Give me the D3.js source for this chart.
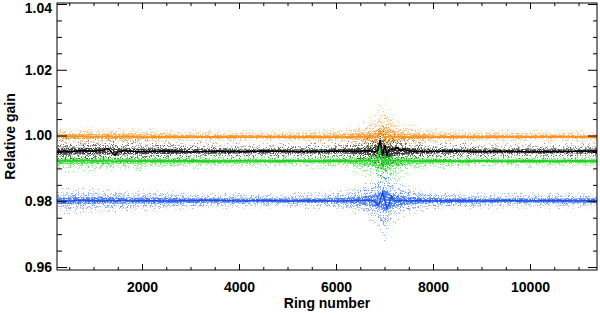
<!DOCTYPE html>
<html>
<head>
<meta charset="utf-8">
<script src="https://cdn.jsdelivr.net/npm/d3@7"></script>
<style>
  body { margin: 0; background: #fff; }
  svg text { font-family: "Liberation Sans", Arial, sans-serif; font-weight: bold; }
</style>
</head>
<body>
<svg id="chart" width="600" height="313"></svg>
<script>
// line samples (ring number)
var lineRings = [250, 500, 750, 1000, 1200, 1300, 1400, 1450, 1500, 1600, 1800, 2000, 2500, 3000, 3500, 4000, 4500, 5000, 5500, 6000, 6400, 6700, 6800, 6860, 6910, 6960, 7010, 7050, 7090, 7140, 7200, 7250, 7320, 7400, 7500, 7700, 8000, 8500, 9000, 9500, 10000, 10500, 11000, 11380];

var orangeLine = [0.9998, 0.9997, 0.9998, 0.9996, 0.9997, 0.9998, 0.9995, 0.9994, 0.9996, 0.9997, 0.9996, 0.9995, 0.9996, 0.9995, 0.9996, 0.9995, 0.9996, 0.9995, 0.9996, 0.9995, 0.9996, 0.9997, 0.9995, 0.9998, 1.0010, 1.0002, 0.9992, 0.9997, 0.9995, 0.9998, 0.9996, 0.9997, 0.9995, 0.9996, 0.9995, 0.9996, 0.9995, 0.9996, 0.9995, 0.9996, 0.9995, 0.9996, 0.9996, 0.9995];
var blackLine = [0.9953, 0.9951, 0.9954, 0.9952, 0.9955, 0.9961, 0.9944, 0.9940, 0.9950, 0.9954, 0.9952, 0.9951, 0.9953, 0.9950, 0.9952, 0.9951, 0.9953, 0.9952, 0.9951, 0.9953, 0.9952, 0.9954, 0.9950, 0.9956, 0.9986, 0.9940, 0.9970, 0.9942, 0.9954, 0.9958, 0.9956, 0.9964, 0.9955, 0.9958, 0.9953, 0.9951, 0.9952, 0.9953, 0.9951, 0.9952, 0.9950, 0.9951, 0.9952, 0.9953];
var greenLine = [0.9923, 0.9922, 0.9924, 0.9923, 0.9922, 0.9924, 0.9921, 0.9920, 0.9922, 0.9923, 0.9922, 0.9923, 0.9922, 0.9923, 0.9922, 0.9923, 0.9922, 0.9923, 0.9922, 0.9923, 0.9922, 0.9924, 0.9922, 0.9925, 0.9978, 0.9905, 0.9935, 0.9915, 0.9928, 0.9924, 0.9922, 0.9925, 0.9922, 0.9924, 0.9923, 0.9922, 0.9923, 0.9922, 0.9923, 0.9922, 0.9923, 0.9922, 0.9923, 0.9922];
var blueLine = [0.9802, 0.9801, 0.9803, 0.9802, 0.9801, 0.9803, 0.9802, 0.9800, 0.9802, 0.9803, 0.9801, 0.9802, 0.9801, 0.9802, 0.9803, 0.9801, 0.9802, 0.9801, 0.9802, 0.9801, 0.9802, 0.9803, 0.9800, 0.9788, 0.9800, 0.9827, 0.9800, 0.9780, 0.9790, 0.9815, 0.9803, 0.9801, 0.9802, 0.9803, 0.9801, 0.9802, 0.9801, 0.9802, 0.9801, 0.9802, 0.9801, 0.9802, 0.9801, 0.9802];

// scatter cloud: level and outer half-width, sampled along ring number
var bandRings = [250, 1000, 2000, 3000, 4000, 5000, 6000, 6400, 6700, 6900, 7000, 7100, 7300, 7700, 8000, 9000, 10000, 11380];
var orangeLevel = 0.9997, blackLevel = 0.9952, greenLevel = 0.9922, blueLevel = 0.9802;
var orangeSpread = [0.0030, 0.0030, 0.0026, 0.0022, 0.0020, 0.0020, 0.0024, 0.0035, 0.0055, 0.0090, 0.0135, 0.0085, 0.0050, 0.0032, 0.0025, 0.0020, 0.0020, 0.0020];
var blackSpread = [0.0042, 0.0040, 0.0035, 0.0028, 0.0025, 0.0024, 0.0027, 0.0035, 0.0050, 0.0070, 0.0090, 0.0065, 0.0045, 0.0032, 0.0028, 0.0024, 0.0024, 0.0026];
var greenSpread = [0.0035, 0.0035, 0.0030, 0.0025, 0.0022, 0.0022, 0.0025, 0.0035, 0.0055, 0.0085, 0.0125, 0.0080, 0.0050, 0.0032, 0.0026, 0.0022, 0.0022, 0.0022];
var blueSpread = [0.0042, 0.0040, 0.0035, 0.0028, 0.0024, 0.0024, 0.0028, 0.0040, 0.0060, 0.0095, 0.0140, 0.0090, 0.0055, 0.0036, 0.0030, 0.0025, 0.0025, 0.0025];

var xTicks = [2000, 4000, 6000, 8000, 10000];
var yTicks = [0.96, 0.98, 1.00, 1.02, 1.04];

var series = [
    { name: 'orange', level: orangeLevel, spread: orangeSpread, line: orangeLine, dot: '#ffa040', stroke: '#f59220' },
    { name: 'green', level: greenLevel, spread: greenSpread, line: greenLine, dot: '#44e844', stroke: '#22d022' },
    { name: 'black', level: blackLevel, spread: blackSpread, line: blackLine, dot: '#333333', stroke: '#000000' },
    { name: 'blue', level: blueLevel, spread: blueSpread, line: blueLine, dot: '#3f74f5', stroke: '#1f50e6' }
];

var svg = d3.select('#chart'),
    padL = 57, padR = 597, padT = 3, padB = 270;

var x = d3.scaleLinear().domain([247, 11381]).range([padL, padR]);
var y = d3.scaleLinear().domain([0.9591, 1.0403]).range([padB, padT]);

// speckle filters to give bands a scattered-dot look
var defs = svg.append('defs');
function speckle(id, freq, seed, gain, cut) {
    var f = defs.append('filter').attr('id', id)
        .attr('x', '-5%').attr('y', '-20%').attr('width', '110%').attr('height', '140%');
    f.append('feTurbulence').attr('type', 'fractalNoise').attr('baseFrequency', freq)
        .attr('numOctaves', 1).attr('seed', seed).attr('result', 'n');
    f.append('feColorMatrix').attr('in', 'n').attr('type', 'matrix')
        .attr('values', '0 0 0 0 0  0 0 0 0 0  0 0 0 0 0  ' + gain + ' 0 0 0 ' + (-cut))
        .attr('result', 'm');
    f.append('feComposite').attr('in', 'SourceGraphic').attr('in2', 'm').attr('operator', 'in');
}
speckle('sp1', 1.4, 2, 12, 7.4);
speckle('sp2', 1.4, 5, 12, 6.6);
speckle('sp3', 1.4, 9, 12, 5.0);

svg.append('clipPath').attr('id', 'plot')
    .append('rect').attr('x', padL).attr('y', padT).attr('width', padR - padL).attr('height', padB - padT);

var g = svg.append('g').attr('clip-path', 'url(#plot)');

var bands = [{ f: 1.0, id: 'sp1', o: 0.55 }, { f: 0.6, id: 'sp2', o: 0.7 }, { f: 0.25, id: 'sp3', o: 0.9 }];

series.forEach(function(s) {
    bands.forEach(function(b) {
        var area = d3.area()
            .curve(d3.curveBasis)
            .x(function(d, i) { return x(bandRings[i]); })
            .y0(function(d) { return y(s.level - d * b.f); })
            .y1(function(d) { return y(s.level + d * b.f); });
        g.append('path')
            .attr('class', s.name)
            .attr('d', area(s.spread))
            .attr('fill', s.dot)
            .attr('opacity', b.o)
            .attr('filter', 'url(#' + b.id + ')');
    });
});

series.forEach(function(s) {
    var line = d3.line()
        .x(function(d, i) { return x(lineRings[i]); })
        .y(function(d) { return y(d); });
    g.append('path')
        .attr('d', line(s.line))
        .attr('fill', 'none')
        .attr('stroke', s.stroke)
        .attr('stroke-width', 1.6);
});

// axes, IDL style: ticks on all four sides
var xMinor = d3.range(500, 11381, 500).filter(function(v) { return xTicks.indexOf(v) < 0; });
var yMinor = d3.range(0.96, 1.0401, 0.005).filter(function(v) {
    return !yTicks.some(function(t) { return Math.abs(t - v) < 1e-6; });
});

function noDomain(a) { a.select('.domain').remove(); }

svg.append('g').attr('transform', 'translate(0,' + padB + ')')
    .call(d3.axisBottom(x).tickValues(xTicks).tickSize(-6).tickPadding(12).tickFormat(d3.format('d')))
    .call(noDomain);
svg.append('g').attr('transform', 'translate(0,' + padB + ')')
    .call(d3.axisBottom(x).tickValues(xMinor).tickSize(-3).tickFormat(''))
    .call(noDomain);
svg.append('g').attr('transform', 'translate(0,' + padT + ')')
    .call(d3.axisTop(x).tickValues(xTicks).tickSize(-6).tickFormat(''))
    .call(noDomain);
svg.append('g').attr('transform', 'translate(0,' + padT + ')')
    .call(d3.axisTop(x).tickValues(xMinor).tickSize(-3).tickFormat(''))
    .call(noDomain);

var yAxis = svg.append('g').attr('transform', 'translate(' + padL + ',0)')
    .call(d3.axisLeft(y).tickValues(yTicks).tickSize(-10).tickPadding(5).tickFormat(d3.format('.2f')))
    .call(noDomain);
// keep the top label inside the picture, as the original does
yAxis.selectAll('.tick text').filter(function(d) { return d === 1.04; }).attr('dy', '0.62em');
svg.append('g').attr('transform', 'translate(' + padL + ',0)')
    .call(d3.axisLeft(y).tickValues(yMinor).tickSize(-5).tickFormat(''))
    .call(noDomain);
svg.append('g').attr('transform', 'translate(' + padR + ',0)')
    .call(d3.axisRight(y).tickValues(yTicks).tickSize(-9).tickFormat(''))
    .call(noDomain);
svg.append('g').attr('transform', 'translate(' + padR + ',0)')
    .call(d3.axisRight(y).tickValues(yMinor).tickSize(-4).tickFormat(''))
    .call(noDomain);

svg.selectAll('.tick text').attr('font-size', 14).attr('fill', '#000')
    .style('font-family', '"Liberation Sans", Arial, sans-serif').style('font-weight', 'bold');

svg.append('rect')
    .attr('x', padL).attr('y', padT).attr('width', padR - padL).attr('height', padB - padT)
    .attr('fill', 'none').attr('stroke', '#000').attr('stroke-width', 1);

svg.append('text')
    .attr('x', (padL + padR) / 2).attr('y', 308)
    .attr('text-anchor', 'middle').attr('font-size', 14)
    .text('Ring number');

svg.append('text')
    .attr('transform', 'translate(15,' + ((padT + padB) / 2) + ') rotate(-90)')
    .attr('text-anchor', 'middle').attr('font-size', 14)
    .text('Relative gain');
</script>
</body>
</html>
